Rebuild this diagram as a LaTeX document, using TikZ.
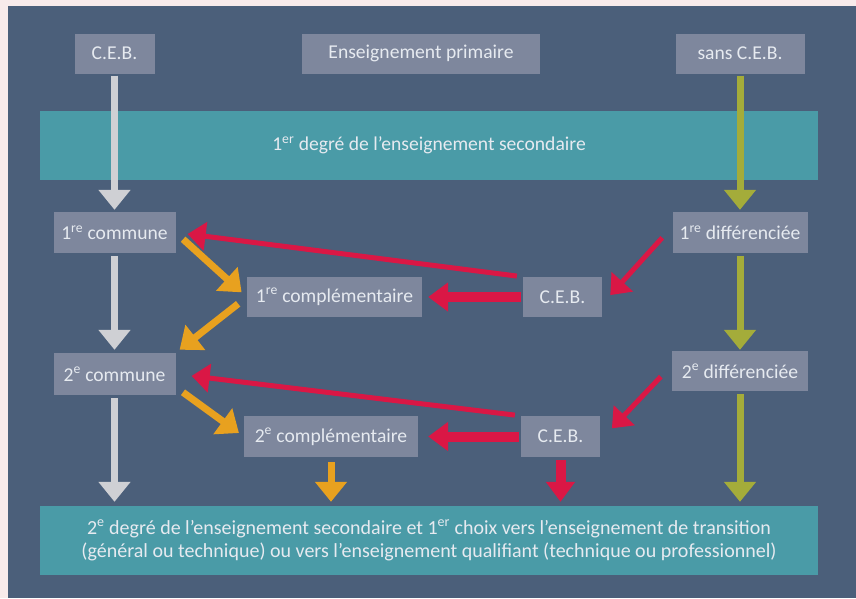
\documentclass[tikz,border=0pt]{standalone}
\usepackage{fontspec}
\setmainfont{Carlito}
\usetikzlibrary{arrows.meta,positioning}
\definecolor{pinkbg}{HTML}{F8EBEB}
\definecolor{panel}{HTML}{4B5F7A}
\definecolor{barcol}{HTML}{4A9BA7}
\definecolor{boxcol}{HTML}{7E879D}
\definecolor{txtcol}{HTML}{E6EAF0}
\definecolor{greyarr}{HTML}{CFD0D4}
\definecolor{olivearr}{HTML}{A4AC3A}
\definecolor{orangearr}{HTML}{E8A11F}
\definecolor{redarr}{HTML}{DA1745}
\tikzset{font=\fontsize{19.6}{23}\selectfont}
\tikzstyle{box}=[fill=boxcol,text=txtcol,inner sep=0pt,minimum height=40pt]
\tikzstyle{bar}=[fill=barcol,text=txtcol,inner sep=0pt,minimum width=778pt,minimum height=69pt,align=center]
\tikzstyle{fat}=[line width=7pt,-{Triangle[width=31pt,length=20pt]}]
\tikzstyle{thin}=[line width=5pt,-{Triangle[width=28pt,length=18pt]}]
\tikzstyle{wide}=[line width=10pt,-{Triangle[width=28pt,length=20pt]}]
\begin{document}
\begin{tikzpicture}[x=1pt,y=-1pt]
\fill[pinkbg] (0,0) rectangle (856,598);
\fill[panel] (8,6) rectangle (856,598);
\node[box,minimum width=80pt] (ceb) at (114.5,53.5) {C.E.B.};
\node[box,minimum width=238pt] (prim) at (421,53.5) {Enseignement primaire};
\node[box,minimum width=129pt] (sans) at (740,53.5) {sans C.E.B.};
\node[bar] (deg1) at (429,145.5) {1\textsuperscript{er} degré de l’enseignement secondaire};
\node[box,minimum width=122pt,minimum height=41pt] (com1) at (114.5,232.5) {1\textsuperscript{re} commune};
\node[box,minimum width=135pt,minimum height=41pt] (dif1) at (740,232.5) {1\textsuperscript{re} différenciée};
\node[box,minimum width=175pt] (cpl1) at (334.5,297) {1\textsuperscript{re} complémentaire};
\node[box,minimum width=79pt] (ceb1) at (562.5,297) {C.E.B.};
\node[box,minimum width=122pt,minimum height=42pt] (com2) at (114.5,374) {2\textsuperscript{e} commune};
\node[box,minimum width=136pt] (dif2) at (740,371) {2\textsuperscript{e} différenciée};
\node[box,minimum width=174pt,minimum height=41pt] (cpl2) at (331,436.5) {2\textsuperscript{e} complémentaire};
\node[box,minimum width=79pt,minimum height=41pt] (ceb2) at (560.5,436.5) {C.E.B.};
\node[bar,font=\fontsize{20}{23}\selectfont] (deg2) at (429,540.5) {2\textsuperscript{e} degré de l’enseignement secondaire et 1\textsuperscript{er} choix vers l’enseignement de transition\\(général ou technique) ou vers l’enseignement qualifiant (technique ou professionnel)};
% grey and olive columns
\path[fat,greyarr]
(ceb.south) edge [shorten <=2pt,shorten >=2pt] (com1.north)
(com1.south) edge [shorten <=3pt,shorten >=3pt] (com2.north)
(com2.south) edge [shorten <=3pt,shorten >=4pt] (com2.south |- deg2.north);
\path[fat,olivearr]
(sans.south) edge [shorten <=2pt,shorten >=2pt] (dif1.north)
(dif1.south) edge [shorten <=3pt,shorten >=1pt] (dif2.north)
(dif2.south) edge [shorten <=3pt,shorten >=4pt] (dif2.south |- deg2.north);
% orange
\path[fat,orangearr]
(com1.east) edge [shorten <=10pt,shorten >=7pt] (cpl1.west)
(cpl1.west) edge [shorten <=11pt,shorten >=5pt] (com2.north east)
(com2.-12) edge [shorten <=9pt,shorten >=6pt] (cpl2.west)
(cpl2.south) edge [shorten <=5pt,shorten >=4pt] (cpl2.south |- deg2.north);
% red
\path[thin,redarr]
(ceb1.north west) edge [shorten <=6pt,shorten >=12pt] (com1.east)
(dif1.175) edge [shorten <=15pt,shorten >=12pt] (ceb1.-10)
(ceb2.north west) edge [shorten <=6pt,shorten >=16pt] (com2.east)
(dif2.175) edge [shorten <=16pt,shorten >=17pt] (ceb2.-6);
\path[wide,redarr]
(ceb1.west) edge [shorten <=2pt,shorten >=6pt] (cpl1.east)
(ceb2.west) edge [shorten <=2pt,shorten >=10pt] (cpl2.east)
(ceb2.south) edge [shorten <=3pt,shorten >=4pt] (ceb2.south |- deg2.north);
\end{tikzpicture}
\end{document}
